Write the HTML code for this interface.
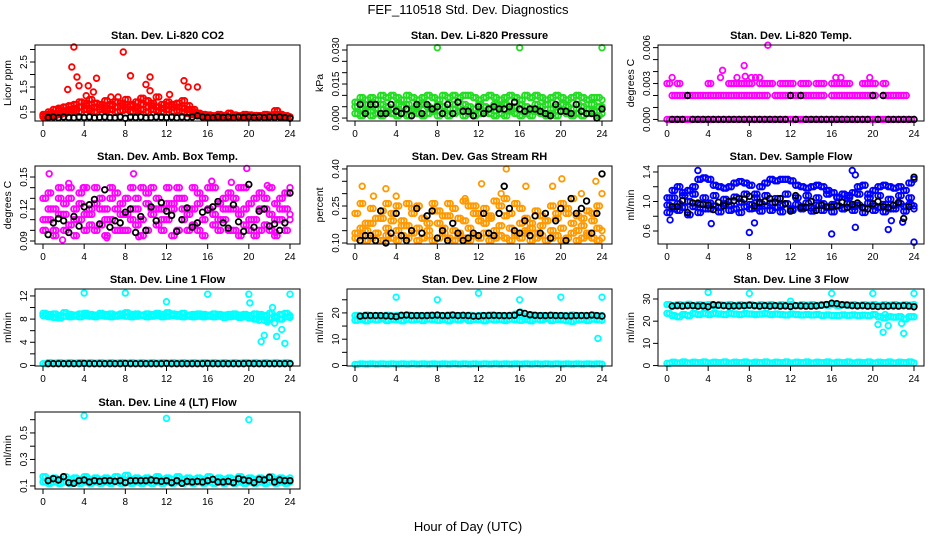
<!DOCTYPE html>
<html><head><meta charset="utf-8"><title>FEF_110518 Std. Dev. Diagnostics</title>
<style>html,body{margin:0;padding:0;background:#fff}svg{display:block;font-family:"Liberation Sans",sans-serif}</style>
</head><body>
<svg id="chart" width="936" height="540" viewBox="0 0 936 540">
<rect x="0" y="0" width="936" height="540" fill="#fff"/>
<text x="468" y="14" text-anchor="middle" font-size="13">FEF_110518  Std. Dev. Diagnostics</text>
<text x="468" y="531" text-anchor="middle" font-size="13">Hour of Day (UTC)</text>
</svg>
<script>
// ---- data (values per half-hour slot, 0..24h) ----
const hourTicks=[0,4,8,12,16,20,24];
const co2RedA=[0.35,0.4,0.45,0.55,0.7,0.6,0.8,0.9,0.75,1.0,0.85,0.7,0.95,0.8,0.9,0.75,1.0,0.8,0.9,1.05,0.95,0.85,1.1,0.8,0.9,0.7,0.85,0.95,0.75,0.6,0.45,0.4,0.38,0.35,0.4,0.36,0.45,0.38,0.35,0.4,0.38,0.36,0.35,0.4,0.38,0.55,0.4,0.35,0.3];
const co2RedB=[0.3,0.32,0.35,0.4,0.45,0.5,0.55,0.5,0.6,0.55,0.5,0.6,0.55,0.6,0.5,0.55,0.6,0.5,0.55,0.6,0.5,0.6,0.55,0.5,0.6,0.5,0.55,0.5,0.45,0.4,0.35,0.3,0.3,0.32,0.3,0.33,0.3,0.32,0.3,0.34,0.32,0.3,0.33,0.3,0.32,0.35,0.3,0.32,0.3];
const co2RedC=[0.4,0.5,0.6,0.65,0.55,0.75,0.65,0.7,0.85,0.65,0.7,0.8,0.65,0.75,0.7,0.85,0.7,0.75,0.65,0.8,0.7,0.75,0.7,0.65,0.75,0.8,0.7,0.65,0.6,0.5,0.4,0.35,0.3,0.3,0.35,0.3,0.3,0.35,0.3,0.3,0.35,0.3,0.35,0.3,0.35,0.4,0.35,0.3,0.3];
const co2Outliers=[[3,3.1],[2.8,2.3],[3.3,1.9],[2.4,1.4],[3.5,1.55],[4.4,1.55],[5.2,1.85],[4.9,1.3],[7.8,2.9],[8.5,1.95],[10.4,1.9],[10,1.6],[10.4,1.35],[13.7,1.75],[14.1,1.5],[15,1.5],[6.6,1.1],[7.3,1.1],[4.2,1.15],[12.3,1.2],[22.8,0.55]];
const co2Black=[null,0.28,0.3,0.27,0.3,0.28,0.27,0.3,0.28,0.3,0.27,0.29,0.3,0.28,0.27,0.3,0.25,0.3,0.28,0.3,0.27,0.28,0.3,0.29,0.28,0.3,0.27,0.3,0.28,0.3,0.35,0.3,0.28,0.27,0.3,0.28,0.3,0.27,0.3,0.28,0.3,0.28,0.3,0.27,0.3,0.28,0.3,0.27,0.25];

const presA=[0.007,0.009,0.008,0.009,0.008,0.01,0.009,0.01,0.009,0.008,0.01,0.009,0.008,0.009,0.01,0.009,0.008,0.01,0.009,0.01,0.009,0.01,0.01,0.009,0.008,0.009,0.01,0.009,0.008,0.009,0.01,0.009,0.008,0.01,0.009,0.01,0.009,0.008,0.009,0.01,0.009,0.008,0.009,0.01,0.009,0.008,0.009,0.009,0.008];
const presB=[0.005,0.004,0.006,0.005,0.004,0.006,0.005,0.004,0.006,0.005,0.006,0.004,0.005,0.006,0.005,0.004,0.006,0.005,0.004,0.006,0.005,0.006,0.005,0.004,0.006,0.005,0.004,0.006,0.005,0.006,0.004,0.005,0.006,0.005,0.004,0.006,0.005,0.006,0.004,0.005,0.006,0.005,0.004,0.006,0.005,0.004,0.006,0.005,0.005];
const presC=[0.002,0.001,0.003,0.001,0.002,0.001,0.003,0.002,0.001,0.002,0.001,0.003,0.002,0.001,0.002,0.003,0.001,0.002,0.001,0.002,0.003,0.001,0.002,0.001,0.002,0.003,0.002,0.001,0.002,0.001,0.003,0.002,0.001,0.002,0.001,0.003,0.002,0.001,0.002,0.001,0.003,0.002,0.001,0.002,0.001,0.002,0.003,0.001,0.002];
const presOutliers=[[8,0.031],[16,0.031],[24,0.031]];
const presBlack=[null,0.006,0.002,0.006,0.006,0.002,0.002,0.006,0.003,0.002,0.004,0.001,0.006,0.002,0.006,0.004,0.005,0.002,0.006,0.002,0.007,0.003,0.003,0.001,0.005,0.002,0.004,0.005,0.004,0.004,0.005,0.007,0.004,0.003,0.004,0.004,0.003,0.002,0.001,0.006,0.003,0.003,0.002,0.006,0.003,0.002,0.002,0.0,0.004];

const tempZero=[0,0,0,0,0,0,0,0,0,0,0,0,0,0,0,0,0,0,0,0,0,0,0,0,0,0,0,0,0,0,0,0,0,0,0,0,0,0,0,0,0,0,0,0,0,0,0,0,0];
const tempMid=[null,0.002,0.002,0.002,0.002,0.002,0.002,0.002,0.002,0.002,0.002,0.002,0.002,0.002,0.002,0.002,0.002,0.002,0.002,0.002,null,0.002,0.002,0.002,0.002,0.002,0.002,0.002,0.002,0.002,0.002,null,0.002,0.002,0.002,0.002,0.002,0.002,0.002,0.002,0.002,null,0.002,0.002,0.002,0.002,0.002,null,null];
const tempHigh=[0.003,null,0.003,null,null,null,null,null,0.003,null,null,null,0.003,0.003,0.003,0.003,0.003,null,0.003,0.003,0.003,null,0.003,0.003,0.003,null,0.003,0.003,null,0.003,0.003,null,0.003,0.003,0.003,0.003,null,null,0.003,0.003,0.003,null,0.003,null,null,null,null,null,null];
const tempOutliers=[[0.5,0.0035],[5.2,0.0035],[5.4,0.0041],[7.5,0.0045],[7.6,0.0036],[8.2,0.0035],[6.8,0.0035],[9.8,0.0062],[16.4,0.0035],[16.9,0.0035],[19.7,0.0035],[8.6,0.0035],[9,0.0035]];
const tempBlack=[null,0,0,0,0.002,0,0,0,0,0,0,0,0,0,0,0,0,0,0,0,0,0,0,0,0.002,0,0.002,0,0,0,0,0,0,0,0,0,0,0,0,0,0.002,0,0.002,0,0,0,0,0,0];

const boxA=[0.13,0.11,0.12,0.14,0.1,0.13,0.12,0.11,0.14,0.12,0.1,0.13,0.11,0.14,0.12,0.1,0.13,0.11,0.12,0.14,0.1,0.12,0.13,0.11,0.14,0.12,0.13,0.11,0.12,0.14,0.1,0.13,0.12,0.14,0.11,0.13,0.12,0.1,0.14,0.12,0.11,0.13,0.1,0.12,0.14,0.11,0.13,0.12,0.11];
const boxB=[0.11,0.12,0.1,0.115,0.125,0.105,0.11,0.125,0.1,0.115,0.125,0.105,0.12,0.11,0.1,0.125,0.115,0.12,0.105,0.11,0.125,0.115,0.105,0.12,0.11,0.125,0.1,0.12,0.115,0.105,0.125,0.11,0.12,0.105,0.125,0.11,0.1,0.12,0.115,0.105,0.125,0.11,0.12,0.105,0.115,0.125,0.11,0.1,0.115];
const boxC=[0.1,0.135,0.095,0.13,0.115,0.14,0.095,0.135,0.115,0.105,0.14,0.12,0.095,0.13,0.135,0.115,0.1,0.14,0.13,0.095,0.135,0.14,0.12,0.1,0.125,0.095,0.14,0.13,0.1,0.12,0.135,0.095,0.14,0.115,0.1,0.12,0.135,0.13,0.095,0.14,0.1,0.095,0.135,0.13,0.1,0.095,0.12,0.135,0.14];
const boxOutliers=[[0.6,0.153],[8.8,0.153],[19.8,0.158],[2.5,0.144],[1.9,0.091],[6.2,0.093],[18.3,0.145],[16.4,0.146],[3.9,0.14],[21.8,0.142],[9.3,0.094],[22.6,0.098]];
const boxBlack=[null,0.096,0.107,0.111,0.109,0.098,0.113,0.104,0.122,0.124,0.129,0.106,0.138,0.103,0.109,0.107,0.117,0.12,0.098,0.113,0.1,0.122,0.109,0.126,0.118,0.114,0.099,0.11,0.121,0.103,0.107,0.117,0.119,0.122,0.127,0.107,0.102,0.124,0.108,0.099,0.143,0.103,0.118,0.12,0.104,0.106,0.1,0.107,0.135];

const rhA=[0.12,0.13,0.11,0.12,0.14,0.11,0.13,0.12,0.11,0.13,0.12,0.14,0.11,0.12,0.13,0.11,0.12,0.14,0.12,0.11,0.13,0.12,0.11,0.13,0.12,0.14,0.11,0.12,0.13,0.12,0.11,0.13,0.12,0.14,0.11,0.12,0.13,0.11,0.12,0.13,0.11,0.12,0.14,0.11,0.12,0.13,0.12,0.11,0.12];
const rhB=[0.14,0.16,0.15,0.18,0.14,0.2,0.16,0.22,0.15,0.19,0.17,0.24,0.16,0.2,0.15,0.23,0.18,0.16,0.21,0.15,0.14,0.19,0.16,0.25,0.22,0.18,0.2,0.15,0.17,0.21,0.16,0.14,0.18,0.15,0.16,0.14,0.17,0.19,0.15,0.2,0.16,0.22,0.18,0.15,0.17,0.14,0.19,0.16,0.15];
const rhC=[0.22,0.26,0.18,0.24,0.2,0.23,0.26,0.19,0.25,0.17,0.26,0.22,0.25,0.2,0.18,0.26,0.23,0.21,0.26,0.24,0.2,0.27,0.25,0.22,0.19,0.24,0.21,0.27,0.25,0.28,0.22,0.26,0.24,0.2,0.18,0.23,0.21,0.19,0.25,0.22,0.26,0.24,0.28,0.21,0.2,0.23,0.22,0.25,0.3];
const rhOutliers=[[0.7,0.33],[3,0.32],[4,0.29],[10.7,0.28],[12.3,0.34],[14.7,0.4],[16.6,0.33],[20.1,0.36],[23.4,0.35],[19.2,0.33],[22,0.3],[14.2,0.3],[1.8,0.29]];
const rhBlack=[null,0.11,0.13,0.13,0.11,0.23,0.1,0.14,0.22,0.13,0.11,0.15,0.24,0.14,0.21,0.23,0.12,0.15,0.11,0.18,0.14,0.11,0.12,0.14,0.13,0.22,0.14,0.13,0.22,0.33,0.24,0.15,0.14,0.19,0.13,0.21,0.14,0.22,0.12,0.19,0.24,0.11,0.28,0.22,0.24,0.27,0.14,0.22,0.38];

const flowA=[0.95,0.9,0.97,0.92,1.0,0.93,0.96,0.9,0.98,0.94,0.92,0.97,0.95,0.9,0.99,0.93,0.96,0.91,0.97,0.94,0.98,0.92,0.95,0.97,0.9,0.96,0.93,0.98,0.91,0.95,0.97,0.92,0.96,0.94,0.9,0.97,0.93,0.95,0.91,0.98,0.94,0.92,0.96,0.9,0.95,0.97,0.93,0.96,0.94];
const flowB=[1.05,1.15,1.2,1.12,1.15,1.2,1.3,1.32,1.3,1.22,1.2,1.18,1.2,1.25,1.27,1.25,1.22,1.1,1.2,1.25,1.3,1.28,1.3,1.3,1.28,1.22,1.2,1.18,1.2,1.22,1.2,1.15,1.12,1.05,1.1,1.08,1.12,1.2,1.22,1.1,1.15,1.2,1.22,1.2,1.18,1.2,1.15,1.25,1.3];
const flowC=[0.85,1.05,0.88,1.08,0.82,1.1,0.85,1.05,0.9,1.08,0.86,1.03,0.88,1.06,0.85,1.1,0.9,1.05,0.87,1.08,0.88,1.04,0.86,1.1,0.88,1.05,0.9,1.08,0.87,1.05,0.88,1.1,0.86,1.06,0.9,1.05,0.88,1.1,0.85,1.05,0.88,1.08,0.86,1.03,0.9,1.08,0.87,1.05,0.9];
const flowOutliers=[[3,1.42],[18,1.42],[18.3,1.36],[24,0.45],[8,0.58],[16,0.56],[4.3,0.7],[8.5,0.71],[21.5,0.62],[18.3,0.65],[0.3,0.75],[22.9,0.72],[21.8,0.74]];
const flowBlack=[null,0.93,0.93,1.01,0.85,0.98,0.98,0.96,0.95,0.89,0.99,0.94,1.0,1.01,1.04,1.03,1.07,0.94,0.99,1.0,1.04,0.99,1.04,0.97,0.87,1.08,0.92,0.92,1.0,0.88,0.95,0.93,0.93,0.94,0.99,0.92,0.96,0.98,0.92,0.9,0.97,1.0,0.93,0.92,0.95,0.99,0.77,0.93,1.33];

const l1A=[9.0,8.8,8.9,8.6,9.1,8.8,8.7,8.9,9.0,8.8,8.7,9.0,8.8,8.9,8.7,8.9,9.1,8.8,8.9,8.7,8.9,8.8,9.0,8.8,9.1,8.9,8.8,9.0,8.7,8.8,8.9,8.8,8.7,8.9,8.8,8.7,8.8,8.9,8.7,8.8,8.6,8.9,8.8,8.6,9.0,8.5,8.8,9.0,8.6];
const l1B=[8.6,8.4,8.3,8.2,8.5,8.4,8.5,8.4,8.6,8.5,8.4,8.6,8.5,8.4,8.5,8.6,8.5,8.4,8.5,8.6,8.4,8.5,8.6,8.4,8.5,8.6,8.5,8.4,8.5,8.4,8.5,8.4,8.5,8.4,8.5,8.3,8.4,8.5,8.3,8.4,8.2,8.0,8.4,7.8,8.2,8.3,8.0,8.4,8.3];
const l1Low=[0.3,0.5,0.4,0.5,0.4,0.5,0.4,0.5,0.4,0.5,0.4,0.5,0.4,0.5,0.4,0.5,0.4,0.5,0.4,0.5,0.4,0.5,0.4,0.5,0.4,0.5,0.4,0.5,0.4,0.5,0.4,0.5,0.4,0.5,0.4,0.5,0.4,0.5,0.4,0.5,0.4,0.5,0.4,0.5,0.4,0.5,0.4,0.5,0.4];
const l1Outliers=[[4,12.5],[8,12.5],[16,12.3],[20,12.3],[24,12.3],[12,11],[20.1,10.8],[21.2,4.1],[21.5,5.2],[23.5,3.8],[23.2,6.2],[22.7,5.0],[22.3,10],[21.8,7.5],[22.5,7.3],[21,7.8]];
const l1Black=[null,0.3,0.3,0.3,0.3,0.3,0.3,0.3,0.35,0.3,0.3,0.3,0.3,0.3,0.3,0.3,0.35,0.3,0.3,0.3,0.3,0.3,0.3,0.3,0.35,0.3,0.3,0.3,0.3,0.3,0.3,0.3,0.35,0.3,0.3,0.3,0.3,0.3,0.3,0.3,0.35,0.3,0.3,0.3,0.3,0.3,0.3,0.3,0.3];

const l2A=[19,18.5,19.2,18.8,19,18.6,19.1,18.8,19,18.7,19.2,18.9,19,18.6,19.1,18.8,19,18.7,19.2,18.9,19,18.6,19.1,18.8,19,18.7,19.2,18.9,19,18.6,19.1,19.5,19,18.7,19.2,18.9,19,18.6,19.1,18.8,19,18.7,19.2,18.9,19,18.6,19.1,18.8,19];
const l2B=[17.2,17.5,17,17.6,17.3,17.8,17.1,17.5,17.4,17,17.6,17.3,17.5,17.1,17.6,17.4,17.2,17.5,17,17.6,17.3,17.8,17.1,17.5,17.4,17,17.6,17.3,17.5,17.1,17.6,17.4,17.2,17.5,17,17.6,17.3,17.8,17.1,17.5,17.4,17,16.8,17.3,17.5,17.1,17.6,17.4,17.2];
const l2Low=[0.4,0.6,0.5,0.6,0.5,0.6,0.5,0.6,0.5,0.6,0.5,0.6,0.5,0.6,0.5,0.6,0.5,0.6,0.5,0.6,0.5,0.6,0.5,0.6,0.5,0.6,0.5,0.6,0.5,0.6,0.5,0.6,0.5,0.6,0.5,0.6,0.5,0.6,0.5,0.6,0.5,0.6,0.5,0.6,0.5,0.6,0.5,0.6,0.5];
const l2Outliers=[[4,26],[8,25],[12,27.5],[16,25],[20,26],[24,26],[23.6,10.3],[16.1,20.3]];
const l2Black=[null,18.8,19,19,19,19,18.9,18.8,18.6,19.1,19.2,19,19,19,19,19.1,19.2,19,19,19.2,19,19.1,19,18.8,18.8,19,19,19.1,19,19,19,19.1,20.2,19.8,19.3,19.1,19,19,19.1,19,19,18.9,18.9,19,19,19,19.2,19,18.8];

const l3A=[27.5,27,27.5,27.2,27.6,27.1,27.4,27.2,27.5,27,27.4,27.2,27.5,27.1,27.4,27.2,27.5,27,27.4,27.2,27.5,27.1,27.4,27.2,27.5,27,27.4,27.2,27.5,27.1,27.4,27.2,27.5,27,27.4,27.2,27.5,27.1,27.4,27.2,27.5,27,27.4,27.2,27.5,27.1,27.4,27.2,27.5];
const l3B=[23.5,22.5,22,23,22.5,23.5,23,23.5,23,23.5,23.2,23,23.5,23.2,23,23.4,23.2,23,23.2,23.4,23,23.2,23,22.8,23.2,23,22.8,23,22.8,23,22.6,22.8,22.6,22.5,22.8,22.6,22.8,22.5,22.7,22.5,23,22,21.5,22,21.8,22,21,22,22];
const l3Low=[1,1.5,1.2,1.6,1.2,1.5,1.3,1.6,1.2,1.5,1.3,1.6,1.2,1.5,1.3,1.6,1.2,1.5,1.3,1.6,1.2,1.5,1.3,1.6,1.2,1.5,1.3,1.6,1.2,1.5,1.3,1.6,1.2,1.5,1.3,1.6,1.2,1.5,1.3,1.6,1.2,1.5,1.3,1.6,1.2,1.5,1.3,1.6,1.2];
const l3Outliers=[[4,33],[8,32.5],[12,29],[16,32.5],[20,32.5],[24,32.5],[20.5,18.5],[21,15],[21.5,18],[23,14.5],[22.8,19],[21.2,23]];
const l3Black=[null,26.8,27,26.8,27,27,26.8,26.9,26.5,27.4,27.2,27,26.8,26.9,26.9,27,27.2,27,26.8,27,26.8,27,26.8,26.9,26.6,27,26.9,26.8,26.8,26.9,27.2,27.5,28.1,27.9,27.4,27.3,27,26.9,27,26.8,26.8,26.6,26.8,26.8,26.9,26.8,27,26.8,26.5];

const l4A=[0.17,0.15,0.16,0.15,0.17,0.15,0.16,0.15,0.17,0.15,0.16,0.15,0.16,0.15,0.17,0.15,0.18,0.15,0.16,0.15,0.16,0.15,0.17,0.15,0.16,0.15,0.17,0.15,0.16,0.15,0.16,0.15,0.17,0.15,0.16,0.15,0.16,0.15,0.17,0.15,0.16,0.15,0.16,0.15,0.17,0.15,0.16,0.15,0.16];
const l4B=[0.13,0.12,0.13,0.12,0.13,0.12,0.13,0.12,0.13,0.12,0.13,0.12,0.13,0.12,0.13,0.12,0.13,0.12,0.13,0.12,0.13,0.12,0.13,0.12,0.13,0.12,0.13,0.12,0.13,0.12,0.13,0.12,0.13,0.12,0.13,0.12,0.13,0.12,0.13,0.12,0.13,0.12,0.13,0.12,0.13,0.12,0.13,0.12,0.13];
const l4Outliers=[[4,0.63],[12,0.61],[20,0.6]];
const l4Black=[null,0.14,0.155,0.145,0.17,0.125,0.12,0.14,0.145,0.13,0.14,0.135,0.14,0.14,0.135,0.14,0.125,0.14,0.14,0.14,0.14,0.145,0.14,0.135,0.14,0.125,0.14,0.12,0.135,0.13,0.135,0.13,0.14,0.15,0.13,0.13,0.135,0.125,0.155,0.145,0.14,0.125,0.15,0.145,0.165,0.13,0.145,0.14,0.14];

// ---- layout ----
const cols=[{l:35,r:300,x0:43,x24:290},{l:347,r:612,x0:355,x24:602},{l:658,r:924,x0:667,x24:914}];
const rows=[{t:45,b:121},{t:166,b:244},{t:289,b:366},{t:412,b:489}];
const panels=[
 {name:'co2',title:'Stan. Dev. Li-820 CO2',ylab:'Licor ppm',c:0,r:0,ymin:0.14,ymax:3.18,ticks:[0.5,1,1.5,2,2.5,3],labels:['0.5','','1.5','','2.5',''],color:'#ff0000',series:[co2RedB,co2RedC,co2RedA],out:co2Outliers,black:co2Black},
 {name:'pressure',title:'Stan. Dev. Li-820 Pressure',ylab:'kPa',c:1,r:0,ymin:-0.0013,ymax:0.0322,ticks:[0,0.005,0.01,0.015,0.02,0.025,0.03],labels:['0.000','','','0.015','','','0.030'],color:'#22dd22',series:[presA,presB,presC],out:presOutliers,black:presBlack},
 {name:'li820-temp',title:'Stan. Dev. Li-820 Temp.',ylab:'degrees C',c:2,r:0,ymin:-0.00013,ymax:0.00622,ticks:[0,0.001,0.002,0.003,0.004,0.005,0.006],labels:['0.000','','','0.003','','','0.006'],color:'#ff00ff',series:[tempZero,tempMid,tempHigh],out:tempOutliers,black:tempBlack},
 {name:'amb-box-temp',title:'Stan. Dev. Amb. Box Temp.',ylab:'degrees C',c:0,r:1,ymin:0.0872,ymax:0.1603,ticks:[0.09,0.1,0.11,0.12,0.13,0.14,0.15],labels:['0.09','','','0.12','','','0.15'],color:'#ff00ff',series:[boxA,boxB,boxC],out:boxOutliers,black:boxBlack},
 {name:'gas-stream-rh',title:'Stan. Dev. Gas Stream RH',ylab:'percent',c:1,r:1,ymin:0.096,ymax:0.412,ticks:[0.1,0.15,0.2,0.25,0.3,0.35,0.4],labels:['0.10','','','0.25','','','0.40'],color:'#ff9900',series:[rhA,rhB,rhC],out:rhOutliers,black:rhBlack},
 {name:'sample-flow',title:'Stan. Dev. Sample Flow',ylab:'ml/min',c:2,r:1,ymin:0.424,ymax:1.481,ticks:[0.6,0.8,1.0,1.2,1.4],labels:['0.6','','1.0','','1.4'],color:'#0000ff',series:[flowC,flowA,flowB],out:flowOutliers,black:flowBlack},
 {name:'line1-flow',title:'Stan. Dev. Line 1 Flow',ylab:'ml/min',c:0,r:2,ymin:-0.1,ymax:13.2,ticks:[0,2,4,6,8,10,12],labels:['0','','4','','8','','12'],color:'#00ffff',series:[l1Low,l1A,l1B],out:l1Outliers,black:l1Black},
 {name:'line2-flow',title:'Stan. Dev. Line 2 Flow',ylab:'ml/min',c:1,r:2,ymin:-0.2,ymax:29.1,ticks:[0,5,10,15,20,25],labels:['0','','10','','20',''],color:'#00ffff',series:[l2Low,l2A,l2B],out:l2Outliers,black:l2Black},
 {name:'line3-flow',title:'Stan. Dev. Line 3 Flow',ylab:'ml/min',c:2,r:2,ymin:-0.2,ymax:34.5,ticks:[0,10,20,30],labels:['0','10','20','30'],color:'#00ffff',series:[l3Low,l3A,l3B],out:l3Outliers,black:l3Black},
 {name:'line4-flow',title:'Stan. Dev. Line 4 (LT) Flow',ylab:'ml/min',c:0,r:3,ymin:0.077,ymax:0.658,ticks:[0.1,0.2,0.3,0.4,0.5,0.6],labels:['0.1','','0.3','','0.5',''],color:'#00ffff',series:[l4A,l4B],out:l4Outliers,black:l4Black}
];
const NS='http://www.w3.org/2000/svg';
const svg=document.getElementById('chart');
function mk(tag,attrs,parent){const e=document.createElementNS(NS,tag);for(const k in attrs)e.setAttribute(k,attrs[k]);parent.appendChild(e);return e;}

panels.forEach(p=>{
  const C=cols[p.c],R=rows[p.r];
  const xs=h=>C.x0+h/24*(C.x24-C.x0);
  const ys=v=>R.b-(v-p.ymin)/(p.ymax-p.ymin)*(R.b-R.t);
  const g=mk('g',{},svg);
  
  
  const t=mk('text',{x:(C.l+C.r)/2,y:R.t-6,'text-anchor':'middle','font-size':'11','font-weight':'bold'},g);
  t.textContent=p.title;
  
  
  const yl=mk('text',{x:C.l-24,y:(R.t+R.b)/2,'text-anchor':'middle','font-size':'10.5',transform:`rotate(-90 ${C.l-24} ${(R.t+R.b)/2})`},g);
  yl.textContent=p.ylab;
  
  
  const pts=mk('g',{fill:'none','stroke-width':'1.8'},g);
  
  
  // each half-hour slot value is plotted across its slot (two samples per slot)
  p.series.forEach(arr=>arr.forEach((v,i)=>{
    if(v===null)return;
    [0,0.25].forEach(off=>{
      if(i*0.5+off>24)return;
      const c=mk('circle',{cx:xs(i*0.5+off),cy:ys(v),r:2.8,stroke:p.color},pts);
      
      
    });
  }));
  p.out.forEach(o=>{
    const c=mk('circle',{cx:xs(o[0]),cy:ys(o[1]),r:2.8,stroke:p.color},pts);
    
    
  });
  p.black.forEach((v,i)=>{
    if(v===null)return;
    const c=mk('circle',{cx:xs(i*0.5),cy:ys(v),r:2.8,stroke:'#000'},pts);
    
    
  });
  const b=mk('rect',{x:C.l,y:R.t,width:C.r-C.l,height:R.b-R.t,fill:'none',stroke:'#000','stroke-width':'1'},g);
  
  
  const ax=mk('g',{stroke:'#000','stroke-width':'1'},g);
  
  
  mk('line',{x1:xs(0),x2:xs(24),y1:R.b,y2:R.b},ax);
  hourTicks.forEach(h=>{
    mk('line',{x1:xs(h),x2:xs(h),y1:R.b,y2:R.b+5},ax);
    const tl=mk('text',{x:xs(h),y:R.b+16,'text-anchor':'middle','font-size':'10',stroke:'none',fill:'#000'},ax);
    tl.textContent=h;
    
    
  });
  const ay=mk('g',{stroke:'#000','stroke-width':'1'},g);
  
  
  mk('line',{x1:C.l,x2:C.l,y1:ys(p.ticks[0]),y2:ys(p.ticks[p.ticks.length-1])},ay);
  p.ticks.forEach((v,i)=>{
    const y=ys(v);
    mk('line',{x1:C.l-5,x2:C.l,y1:y,y2:y},ay);
    if(p.labels[i]){
      const tl=mk('text',{x:C.l-8,y:y,'text-anchor':'middle','font-size':'10',stroke:'none',fill:'#000',transform:`rotate(-90 ${C.l-8} ${y})`},ay);
      tl.textContent=p.labels[i];
      
      
    }
  });
});
</script>
</body></html>
